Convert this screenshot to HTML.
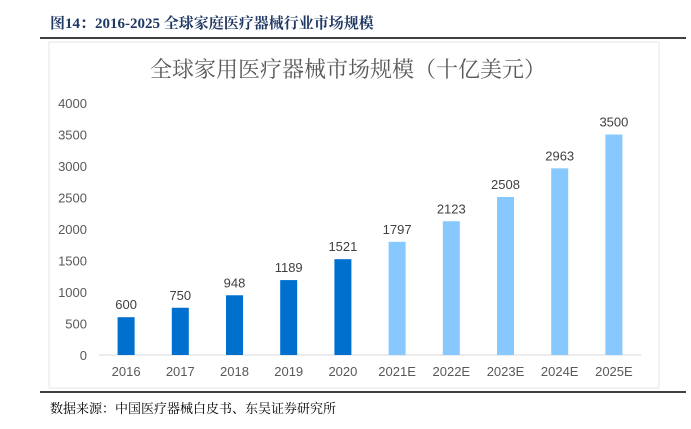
<!DOCTYPE html>
<html><head><meta charset="utf-8"><style>
body{margin:0;width:691px;height:424px;background:#fff;overflow:hidden;font-family:"Liberation Sans","Noto Sans CJK SC",sans-serif}
</style></head><body>
<svg width="691" height="424" xmlns="http://www.w3.org/2000/svg">
<text x="50" y="28" font-family="Liberation Serif,'Noto Serif CJK SC',serif" font-weight="bold" font-size="15" fill="#1f3864">图14：2016-2025 全球家庭医疗器械行业市场规模</text>
<line x1="40" y1="38" x2="686" y2="38" stroke="#000" stroke-width="1.5"/>
<rect x="49" y="42" width="610" height="346" fill="#fff" stroke="#e6e6e6"/>
<text x="348" y="77" text-anchor="middle" font-family="'Noto Serif CJK SC',serif" font-size="22" fill="#595959">全球家用医疗器械市场规模（十亿美元）</text>
<g id="chart"></g>
<line x1="40" y1="392" x2="686" y2="392" stroke="#000" stroke-width="1.5"/>
<text x="50" y="413" font-family="'Noto Serif CJK SC',serif" font-size="13" fill="#000">数据来源：中国医疗器械白皮书、东吴证券研究所</text>
</svg>
<script>
const categories=["2016","2017","2018","2019","2020","2021E","2022E","2023E","2024E","2025E"];
const values=[600,750,948,1189,1521,1797,2123,2508,2963,3500];
const estimated=[false,false,false,false,false,true,true,true,true,true];
const ticks=[0,500,1000,1500,2000,2500,3000,3500,4000];
const NS="http://www.w3.org/2000/svg";
const g=document.getElementById("chart");
const x0=99,x1=641,y0=355,y1=103;
const band=(x1-x0)/categories.length;
const xc=i=>x0+band*(i+0.5);
const y=v=>y0-(v/4000)*(y0-y1);
function mk(t,a,txt){const e=document.createElementNS(NS,t);for(const k in a)e.setAttribute(k,a[k]);if(txt!==undefined)e.textContent=txt;g.appendChild(e);return e;}
ticks.forEach(t=>{const e=mk("text",{x:87,y:y(t)+5,"text-anchor":"end","font-size":"13",fill:"#595959"},t);

});
const ax=mk("line",{x1:x0,y1:y0,x2:x1,y2:y0,stroke:"#d9d9d9","stroke-width":1});


categories.forEach((c,i)=>{
const v=values[i];
const r=mk("rect",{x:xc(i)-8.5,y:y(v),width:17,height:y0-y(v),fill:estimated[i]?"#87c9ff":"#0070ce"});


const l=mk("text",{x:xc(i),y:y(v)-8,"text-anchor":"middle","font-size":"13",fill:"#404040"},v);


const t=mk("text",{x:xc(i),y:376,"text-anchor":"middle","font-size":"13",fill:"#595959"},c);


});
</script>
</body></html>
